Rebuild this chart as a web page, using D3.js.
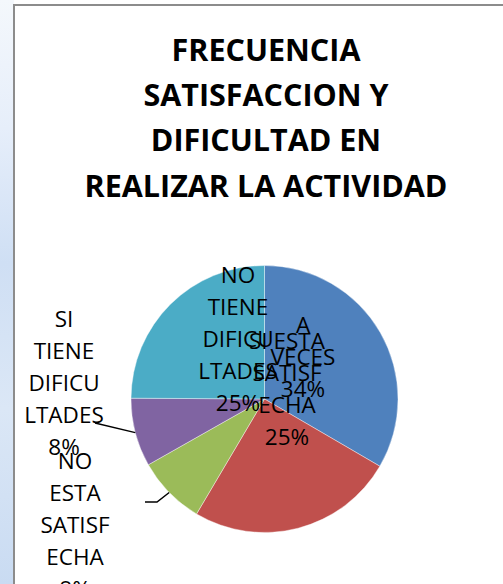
<!DOCTYPE html>
<html>
<head>
<meta charset="utf-8">
<script src="https://cdn.jsdelivr.net/npm/d3@7"></script>
<style>
  html, body { margin: 0; padding: 0; background: #fff; }
  svg { display: block; }
  text { font-family: "Open Sans", Lato, sans-serif; fill: #000; }
</style>
</head>
<body>
<div id="chart"></div>
<script>
// chart data (slice sizes from the angles)
var categories = ["A VECES", "SI ESTA SATISFECHA", "NO ESTA SATISFECHA", "SI TIENE DIFICULTADES", "NO TIENE DIFICULTADES"];
var values = [33.4, 25.1, 8.3, 8.3, 24.9];
var pctLabels = ["34%", "25%", "8%", "8%", "25%"];
// how excel wrapped each data label
var labelLines = [
  ["A", "VECES", "34%"],
  ["SI ESTA", "SATISF", "ECHA", "25%"],
  ["NO", "ESTA", "SATISF", "ECHA", "8%"],
  ["SI", "TIENE", "DIFICU", "LTADES", "8%"],
  ["NO", "TIENE", "DIFICU", "LTADES", "25%"]
];
var colors = ["#4F81BD", "#C0504D", "#9BBB59", "#8064A2", "#4BACC6"];
var titleLines = ["FRECUENCIA", "SATISFACCION Y", "DIFICULTAD EN", "REALIZAR LA ACTIVIDAD"];

var W = 503, H = 584;
var cx = 264.5, cy = 399, radius = 133.5;
// label block centres relative to the pie centre (layout only)
var labelOffset = [[38.5, -42], [22.5, -10], [-189.5, 126], [-200.5, -16], [-26.5, -60]];

var svg = d3.select("#chart").append("svg")
    .attr("width", W)
    .attr("height", H);

// bluish backdrop seen to the left of the chart frame
var defs = svg.append("defs");
var grad = defs.append("linearGradient").attr("id", "bg").attr("x1", 0).attr("y1", 0).attr("x2", 0).attr("y2", 1);
grad.append("stop").attr("offset", "0%").attr("stop-color", "#f4f8fc");
grad.append("stop").attr("offset", "22%").attr("stop-color", "#e6eefa");
grad.append("stop").attr("offset", "45%").attr("stop-color", "#cfdff4");
grad.append("stop").attr("offset", "70%").attr("stop-color", "#dbe7f6");
grad.append("stop").attr("offset", "100%").attr("stop-color", "#c9dbf2");
svg.append("rect").attr("x", 0).attr("y", 0).attr("width", 14).attr("height", H).attr("fill", "url(#bg)");

// chart frame
svg.append("rect")
    .attr("x", 14).attr("y", 5)
    .attr("width", W + 20).attr("height", H + 20)
    .attr("fill", "#fff")
    .attr("stroke", "#8c8c8c")
    .attr("stroke-width", 2);

// title
var title = svg.append("text")
    .attr("text-anchor", "middle")
    .style("font-weight", "bold")
    .style("font-size", "30.5px");
title.selectAll("tspan")
  .data(titleLines)
  .enter().append("tspan")
    .attr("x", 266)
    .attr("y", function(d, i) { return 60.7 + i * 45.3; })
    .text(function(d) { return d; });

// pie
var pie = d3.pie().sort(null).value(function(d) { return d; });
var arcs = pie(values);
var arc = d3.arc().innerRadius(0).outerRadius(radius);

var g = svg.append("g").attr("transform", "translate(" + cx + "," + cy + ")");

g.selectAll("path.slice")
  .data(arcs)
  .enter().append("path")
    .attr("class", "slice")
    .attr("d", arc)
    .attr("fill", function(d, i) { return colors[i]; })
    .attr("stroke", "#fff")
    .attr("stroke-width", 0.4);

// leader lines for the two small slices
function edgePoint(d) {
  var a = (d.startAngle + d.endAngle) / 2;
  return [radius * Math.sin(a), -radius * Math.cos(a)];
}
var leaders = [
  {i: 2, pts: [[-107.5, 103], [-119.5, 103]]},
  {i: 3, pts: [[-169.5, 24]]}
];
leaders.forEach(function(l) {
  var pts = [edgePoint(arcs[l.i])].concat(l.pts);
  g.append("path")
    .attr("d", d3.line()(pts))
    .attr("fill", "none")
    .attr("stroke", "#000")
    .attr("stroke-width", 1.5);
});

// data labels, drawn in excel's order so they overlap the same way
var lineH = 32;
arcs.forEach(function(d, i) {
  var lines = labelLines[i];
  var off = labelOffset[i];
  var t = g.append("text")
    .attr("text-anchor", "middle")
    .style("font-size", "22.5px");
  lines.forEach(function(s, k) {
    t.append("tspan")
      .attr("x", off[0])
      .attr("y", off[1] + (k - (lines.length - 1) / 2) * lineH + 8)
      .text(s);
  });
});
</script>
</body>
</html>
